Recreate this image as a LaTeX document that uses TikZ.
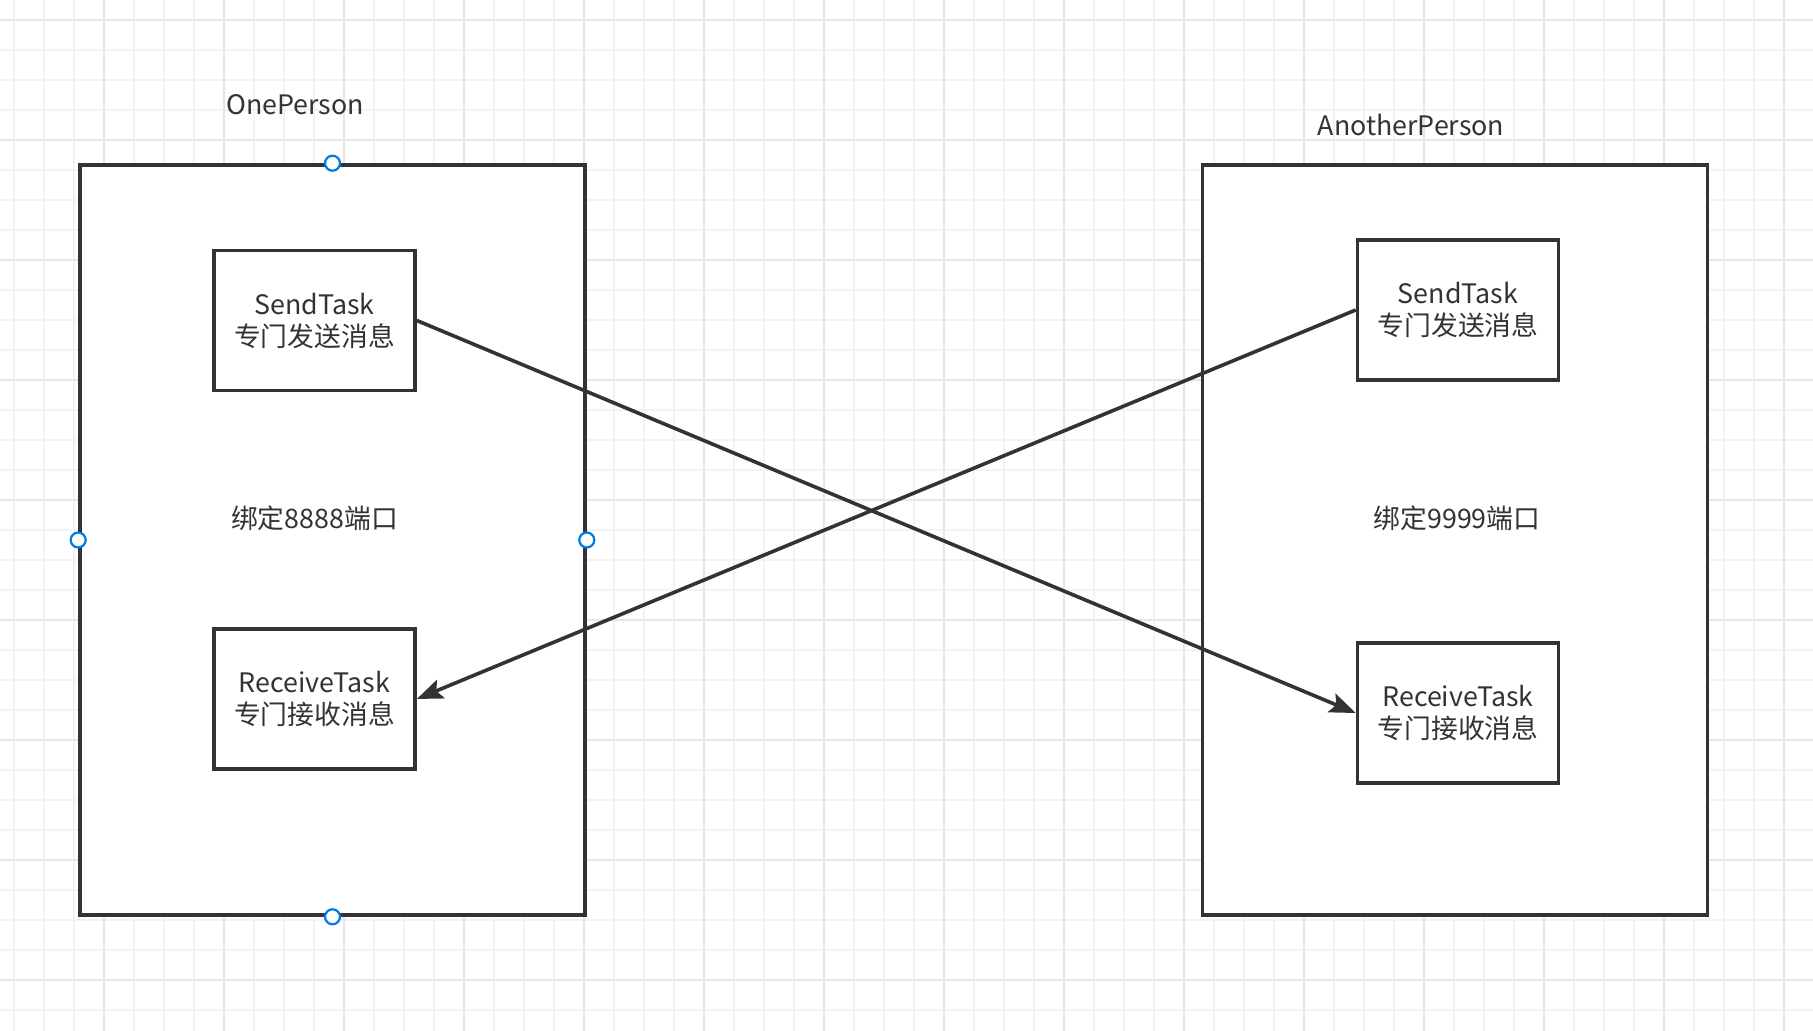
\documentclass[tikz,border=0pt]{standalone}
\usepackage{fontspec}
\setmainfont{Noto Sans CJK SC}
\usetikzlibrary{arrows.meta}
\definecolor{ink}{RGB}{51,51,51}
\definecolor{gminor}{RGB}{243,243,243}
\definecolor{gmajor}{RGB}{230,230,230}
\definecolor{handle}{RGB}{0,122,230}
\tikzset{
  person/.style={draw=ink, fill=white, line width=1.8pt, minimum width=252.5pt, minimum height=375pt, inner sep=0pt},
  task/.style={draw=ink, fill=white, line width=1.8pt, minimum width=100.5pt, minimum height=70pt, align=center, inner sep=0pt, text=ink, font=\fontsize{13.4pt}{16pt}\selectfont},
  lbl/.style={text=ink, inner sep=0pt, font=\fontsize{13.4pt}{16pt}\selectfont},
  conn/.style={draw=ink, line width=1.8pt, -{Stealth[length=13pt,width=10pt,inset=2.5pt]}},
  hdl/.style={circle, draw=handle, fill=white, line width=1.1pt, minimum size=7.5pt, inner sep=0pt}
}
\begin{document}
\begin{tikzpicture}[x=0.5pt,y=-0.5pt]
\useasboundingbox (0,0) rectangle (1813,1031);
\fill[white] (0,0) rectangle (1813,1031);
% grid
\foreach \gx in {14,44,...,1813} \draw[gminor, line width=0.6pt] (\gx,0) -- (\gx,1031);
\foreach \gy in {20,50,...,1031} \draw[gminor, line width=0.6pt] (0,\gy) -- (1813,\gy);
\foreach \gx in {104,224,...,1813} \draw[gmajor, line width=0.9pt] (\gx,0) -- (\gx,1031);
\foreach \gy in {20,140,...,1031} \draw[gmajor, line width=0.9pt] (0,\gy) -- (1813,\gy);
% containers
\node[person] (one) at (332.5,540) {};
\node[person] (another) at (1455,540) {};
\node[lbl] (oneLbl) at (295,105) {OnePerson};
\node[lbl] (anotherLbl) at (1411,125) {AnotherPerson};
\node[lbl] (bind1) at (314.5,518) {绑定8888端口};
\node[lbl] (bind2) at (1457,518) {绑定9999端口};
% tasks
\node[task] (send1) at (314.5,320.5) {SendTask\\专门发送消息};
\node[task] (recv1) at (314.5,699) {ReceiveTask\\专门接收消息};
\node[task] (send2) at (1458,310) {SendTask\\专门发送消息};
\node[task] (recv2) at (1458,713) {ReceiveTask\\专门接收消息};
% connectors
\draw[conn] (send1.east) -- (recv2.west);
\draw[conn] (send2.west) -- (recv1.east);
% selection handles
\node[hdl] (h1) at (one.north) {};
\node[hdl] (h2) at (one.south) {};
\node[hdl] (h3) at (one.west) {};
\node[hdl] (h4) at (one.east) {};
\end{tikzpicture}
\end{document}
